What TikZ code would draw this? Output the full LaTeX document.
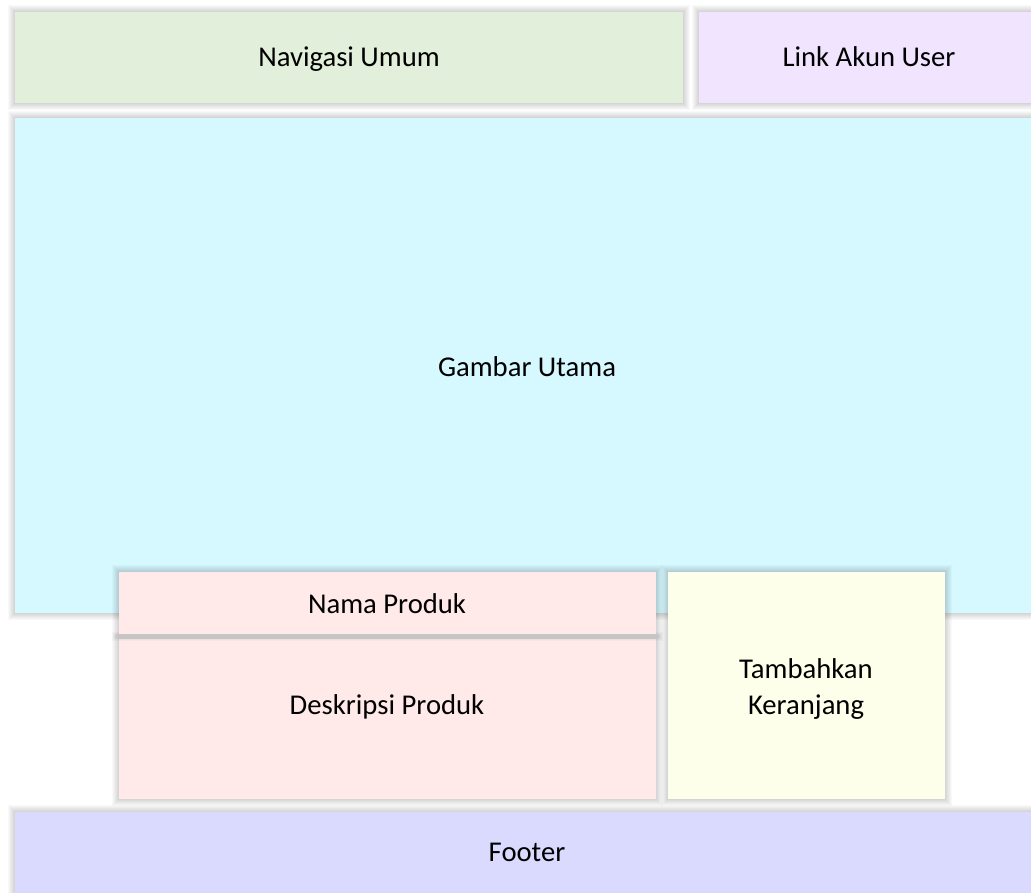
\documentclass[tikz,border=0pt]{standalone}
\usepackage{fontspec}
\setmainfont{Carlito}
\definecolor{cnav}{HTML}{E2EFDA}
\definecolor{clink}{HTML}{F0E4FF}
\definecolor{cimg}{HTML}{D6F8FF}
\definecolor{cpink}{HTML}{FFE9E9}
\definecolor{cyel}{HTML}{FDFFEB}
\definecolor{cfoot}{HTML}{DADAFF}
\newcommand\mypanel[5]{%
  \foreach \k in {1,...,7}{\fill[black, opacity=0.025] ({#2-\k},{#3-\k}) rectangle ({#4+\k},{#5+\k});}
  \fill[#1] (#2,#3) rectangle (#4,#5);}
\tikzset{
  lbl/.style={font=\fontsize{21.5}{27}\selectfont, text=black, align=center, inner sep=0pt, anchor=base}
}
\begin{document}
\begin{tikzpicture}[x=0.75pt,y=-0.75pt]
\clip (0,0) rectangle (1031,892);
\fill[white] (0,0) rectangle (1031,892);
\mypanel{cimg}{15}{118}{1039}{613}
\node[lbl] (gambar) at (527,376) {Gambar Utama};
\mypanel{cnav}{15}{12}{683}{103}
\node[lbl] (nav) at (349,67) {Navigasi Umum};
\mypanel{clink}{699}{12}{1039}{103}
\node[lbl] (link) at (869,67) {Link Akun User};
\mypanel{cpink}{119}{639}{656}{799}
\node[lbl] (desk) at (387,714) {Deskripsi Produk};
\mypanel{cpink}{119}{572}{656}{634}
\node[lbl] (nama) at (387,613) {Nama Produk};
\mypanel{cyel}{668}{572}{945}{799}
\node[lbl, anchor=center] (tambah) at (806,689) {Tambahkan\\Keranjang};
\mypanel{cfoot}{15}{812}{1039}{900}
\node[lbl] (footer) at (527,861) {Footer};
\end{tikzpicture}
\end{document}
